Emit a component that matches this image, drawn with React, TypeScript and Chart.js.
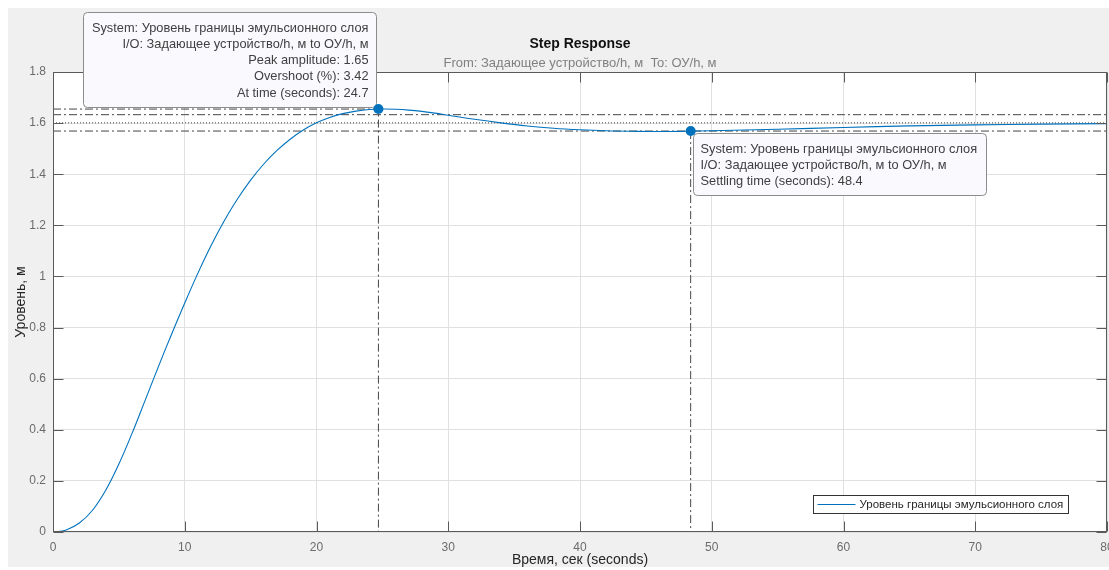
import React, { useEffect, useRef } from "react";
import { Chart, registerables } from "chart.js";

Chart.register(...registerables);

// ---------- data ----------
const TIME = [0, 1, 2, 3, 4, 5, 6, 7, 8, 9, 10, 11, 12, 13, 14, 15, 16, 17, 18, 19, 20, 21, 22, 23, 24, 25, 26, 27, 28, 29, 30, 32, 34, 36, 38, 40, 42, 44, 46, 48, 50, 55, 60, 65, 70, 75, 80];
const LEVEL = [0, 0.008, 0.035, 0.085, 0.163, 0.266, 0.386, 0.516, 0.647, 0.774, 0.896, 1.013, 1.121, 1.218, 1.303, 1.377, 1.44, 1.493, 1.537, 1.573, 1.601, 1.622, 1.637, 1.647, 1.653, 1.655, 1.654, 1.651, 1.646, 1.639, 1.631, 1.615, 1.601, 1.589, 1.58, 1.574, 1.57, 1.568, 1.567, 1.568, 1.57, 1.576, 1.583, 1.589, 1.593, 1.596, 1.598];

const X_TICKS = [0, 10, 20, 30, 40, 50, 60, 70, 80];
const X_TICK_LABELS = ["0", "10", "20", "30", "40", "50", "60", "70", "80"];
const Y_TICKS = [0, 0.2, 0.4, 0.6, 0.8, 1, 1.2, 1.4, 1.6, 1.8];
const Y_TICK_LABELS = ["0", "0.2", "0.4", "0.6", "0.8", "1", "1.2", "1.4", "1.6", "1.8"];

const SERIES_NAME = "Уровень границы эмульсионного слоя";
const TITLE = "Step Response";
const SUBTITLE = "From: Задающее устройство/h, м  To: ОУ/h, м";
const X_TITLE = "Время, сек (seconds)";
const Y_TITLE = "Уровень, м";

const PEAK_TIME = 24.7;
const PEAK_AMPLITUDE = 1.655;
const SETTLING_TIME = 48.4;
const SETTLING_LEVEL = 1.569;
const FINAL_VALUE = 1.601;
const BAND_UPPER = 1.633;
const BAND_LOWER = 1.569;

const PEAK_TIP = [
  "System: Уровень границы эмульсионного слоя",
  "I/O: Задающее устройство/h, м to ОУ/h, м",
  "Peak amplitude: 1.65",
  "Overshoot (%): 3.42",
  "At time (seconds): 24.7",
];
const SETTLING_TIP = [
  "System: Уровень границы эмульсионного слоя",
  "I/O: Задающее устройство/h, м to ОУ/h, м",
  "Settling time (seconds): 48.4",
];

// ---------- styles ----------
const W = 1101;
const H = 559;
const FONT = "'Liberation Sans', Arial, Helvetica, sans-serif";
const LINE_BLUE = "#0072BD";
const REF_GRAY = "#454545";
const DASH_DOT = [8, 3, 2, 3];
const DOTTED = [1, 2];

function roundRect(ctx: CanvasRenderingContext2D, x: number, y: number, w: number, h: number, r: number) {
  ctx.beginPath();
  ctx.moveTo(x + r, y);
  ctx.lineTo(x + w - r, y);
  ctx.arcTo(x + w, y, x + w, y + r, r);
  ctx.lineTo(x + w, y + h - r);
  ctx.arcTo(x + w, y + h, x + w - r, y + h, r);
  ctx.lineTo(x + r, y + h);
  ctx.arcTo(x, y + h, x, y + h - r, r);
  ctx.lineTo(x, y + r);
  ctx.arcTo(x, y, x + r, y, r);
  ctx.closePath();
}

function drawTip(
  ctx: CanvasRenderingContext2D,
  lines: string[],
  ax: number,
  ay: number,
  placement: "topLeft" | "bottomRight"
) {
  ctx.save();
  ctx.font = `12.8px ${FONT}`;
  let maxW = 0;
  lines.forEach((l) => (maxW = Math.max(maxW, ctx.measureText(l).width)));
  const w = Math.round(maxW + 16);
  const lh = 16.3;
  const h = Math.round(lines.length * lh + 13);
  let x: number, y: number;
  if (placement === "topLeft") {
    x = Math.round(ax - 2 - w) + 0.5;
    y = Math.round(ay - 2 - h) + 0.5;
  } else {
    x = Math.round(ax + 2) + 0.5;
    y = Math.round(ay + 2) + 0.5;
  }
  roundRect(ctx, x, y, w, h, 4);
  ctx.fillStyle = "#fafafe";
  ctx.fill();
  ctx.strokeStyle = "#8c8c8c";
  ctx.lineWidth = 1;
  ctx.stroke();
  ctx.fillStyle = "#404040";
  ctx.textBaseline = "middle";
  lines.forEach((l, i) => {
    const ty = y + 15.5 + i * lh;
    if (placement === "topLeft") {
      ctx.textAlign = "right";
      ctx.fillText(l, x + w - 8, ty);
    } else {
      ctx.textAlign = "left";
      ctx.fillText(l, x + 7, ty);
    }
  });
  ctx.restore();
}

const backgroundPlugin = {
  id: "bgPlugin",
  beforeDraw(chart: any) {
    const { ctx, chartArea } = chart;
    ctx.save();
    ctx.fillStyle = "#f0f0f0";
    ctx.fillRect(0, 0, chart.width, chart.height);
    ctx.fillStyle = "#ffffff";
    ctx.fillRect(chartArea.left, chartArea.top, chartArea.right - chartArea.left, chartArea.bottom - chartArea.top);
    ctx.restore();
  },
};

const overlayPlugin = {
  id: "overlayPlugin",
  afterDraw(chart: any) {
    const { ctx, chartArea } = chart;
    const xs = chart.scales.x;
    const ys = chart.scales.y;
    const L = chartArea.left + 0.5;
    const R = chartArea.right - 0.5;
    const T = chartArea.top + 0.5;
    const B = chartArea.bottom - 0.5;
    const cx = (chartArea.left + chartArea.right) / 2;

    ctx.save();
    // box
    ctx.strokeStyle = "#5a5a5a";
    ctx.lineWidth = 1;
    ctx.setLineDash([]);
    ctx.strokeRect(L, T, R - L, B - T);
    // inward ticks
    ctx.beginPath();
    X_TICKS.forEach((v) => {
      const px = Math.round(xs.getPixelForValue(v)) + 0.5;
      ctx.moveTo(px, B);
      ctx.lineTo(px, B - 10);
      ctx.moveTo(px, T);
      ctx.lineTo(px, T + 10);
    });
    Y_TICKS.forEach((v) => {
      const py = Math.round(ys.getPixelForValue(v)) + 0.5;
      ctx.moveTo(L, py);
      ctx.lineTo(L + 10, py);
      ctx.moveTo(R, py);
      ctx.lineTo(R - 10, py);
    });
    ctx.stroke();

    // titles
    ctx.textAlign = "center";
    ctx.textBaseline = "middle";
    ctx.fillStyle = "#111111";
    ctx.font = `bold 14px ${FONT}`;
    ctx.fillText(TITLE, cx, 36);
    ctx.fillStyle = "#808080";
    ctx.font = `13px ${FONT}`;
    ctx.fillText(SUBTITLE, cx, 55.5);

    ctx.fillStyle = "#262626";
    ctx.font = `14px ${FONT}`;
    ctx.fillText(X_TITLE, cx, 552);
    ctx.save();
    ctx.translate(13, (chartArea.top + chartArea.bottom) / 2);
    ctx.rotate(-Math.PI / 2);
    ctx.fillText(Y_TITLE, 0, 0);
    ctx.restore();

    // legend
    ctx.font = `11.5px ${FONT}`;
    const tw = ctx.measureText(chart.data.datasets[1].label).width;
    const lw = Math.round(46 + tw + 5);
    const lh = 18;
    const lx = Math.round(chartArea.right - 39 - lw) + 0.5;
    const ly = Math.round(chartArea.bottom - 19 - lh) + 0.5;
    ctx.fillStyle = "#ffffff";
    ctx.fillRect(lx, ly, lw, lh);
    ctx.strokeStyle = "#333333";
    ctx.strokeRect(lx, ly, lw, lh);
    ctx.strokeStyle = LINE_BLUE;
    ctx.beginPath();
    ctx.moveTo(lx + 4, ly + 9);
    ctx.lineTo(lx + 42, ly + 9);
    ctx.stroke();
    ctx.fillStyle = "#262626";
    ctx.textAlign = "left";
    ctx.fillText(chart.data.datasets[1].label, lx + 46, ly + 9.5);
    ctx.restore();

    // data tips
    const pkx = xs.getPixelForValue(PEAK_TIME);
    const pky = ys.getPixelForValue(PEAK_AMPLITUDE);
    drawTip(ctx, PEAK_TIP, pkx, pky, "topLeft");
    const stx = xs.getPixelForValue(SETTLING_TIME);
    const sty = ys.getPixelForValue(SETTLING_LEVEL);
    drawTip(ctx, SETTLING_TIP, stx, sty, "bottomRight");

    // markers on top
    ctx.save();
    ctx.fillStyle = LINE_BLUE;
    [[pkx, pky], [stx, sty]].forEach(([x, y]) => {
      ctx.beginPath();
      ctx.arc(x, y, 5, 0, Math.PI * 2);
      ctx.fill();
    });
    ctx.restore();
  },
};

export default function App() {
  const ref = useRef<HTMLCanvasElement>(null);

  useEffect(() => {
    const canvas = ref.current;
    if (!canvas) return;
    const refLine = (pts: { x: number; y: number }[], dash: number[]) => ({
      label: "",
      data: pts,
      borderColor: REF_GRAY,
      borderWidth: 1,
      borderDash: dash,
      pointRadius: 0,
      tension: 0,
      fill: false,
    });
    const chart = new Chart(canvas, {
      type: "line",
      data: {
        datasets: [
          {
            label: "markers",
            data: [
              { x: PEAK_TIME, y: PEAK_AMPLITUDE },
              { x: SETTLING_TIME, y: SETTLING_LEVEL },
            ],
            showLine: false,
            pointRadius: 0,
            borderColor: LINE_BLUE,
            backgroundColor: LINE_BLUE,
          },
          {
            label: SERIES_NAME,
            data: TIME.map((t, i) => ({ x: t, y: LEVEL[i] })),
            borderColor: LINE_BLUE,
            borderWidth: 1.1,
            pointRadius: 0,
            tension: 0.4,
            fill: false,
          },
          refLine(
            [
              { x: 0, y: PEAK_AMPLITUDE },
              { x: PEAK_TIME, y: PEAK_AMPLITUDE },
              { x: PEAK_TIME, y: 0 },
            ],
            DASH_DOT
          ),
          refLine(
            [
              { x: SETTLING_TIME, y: SETTLING_LEVEL },
              { x: SETTLING_TIME, y: 0 },
            ],
            DASH_DOT
          ),
          refLine(
            [
              { x: 0, y: BAND_UPPER },
              { x: 80, y: BAND_UPPER },
            ],
            DASH_DOT
          ),
          refLine(
            [
              { x: 0, y: BAND_LOWER },
              { x: 80, y: BAND_LOWER },
            ],
            DASH_DOT
          ),
          refLine(
            [
              { x: 0, y: FINAL_VALUE },
              { x: 80, y: FINAL_VALUE },
            ],
            DOTTED
          ),
        ],
      } as any,
      options: {
        animation: false,
        responsive: false,
        devicePixelRatio: 1,
        layout: { padding: { left: 0, right: 2, top: 64, bottom: 0 }, autoPadding: false },
        plugins: {
          legend: { display: false },
          tooltip: { enabled: false },
          title: { display: false },
        },
        scales: {
          x: {
            type: "linear",
            min: 0,
            max: 80,
            afterBuildTicks: (s: any) => {
              s.ticks = X_TICKS.map((v) => ({ value: v }));
            },
            afterFit: (s: any) => {
              s.height = 35;
              s.paddingLeft = 0;
              s.paddingRight = 0;
            },
            ticks: {
              autoSkip: false,
              maxRotation: 0,
              padding: 8,
              color: "#6b6b6b",
              font: { family: FONT, size: 12 },
              callback: (v: any) => X_TICK_LABELS[X_TICKS.indexOf(Number(v))],
            },
            grid: { color: "#e0e0e0", drawTicks: false },
            border: { display: false },
          },
          y: {
            type: "linear",
            min: 0,
            max: 1.8,
            afterBuildTicks: (s: any) => {
              s.ticks = Y_TICKS.map((v) => ({ value: v }));
            },
            afterFit: (s: any) => {
              s.width = 45;
              s.paddingTop = 0;
              s.paddingBottom = 0;
            },
            ticks: {
              autoSkip: false,
              padding: 7,
              color: "#6b6b6b",
              font: { family: FONT, size: 12 },
              callback: (v: any) => {
                const i = Y_TICKS.findIndex((t) => Math.abs(t - Number(v)) < 1e-9);
                return Y_TICK_LABELS[i];
              },
            },
            grid: { color: "#e0e0e0", drawTicks: false },
            border: { display: false },
          },
        },
      } as any,
      plugins: [backgroundPlugin, overlayPlugin],
    });
    return () => chart.destroy();
  }, []);

  return (
    <div style={{ position: "fixed", left: 8, top: 8, width: W, height: H }}>
      <canvas ref={ref} width={W} height={H} style={{ display: "block", width: W, height: H }} />
    </div>
  );
}
